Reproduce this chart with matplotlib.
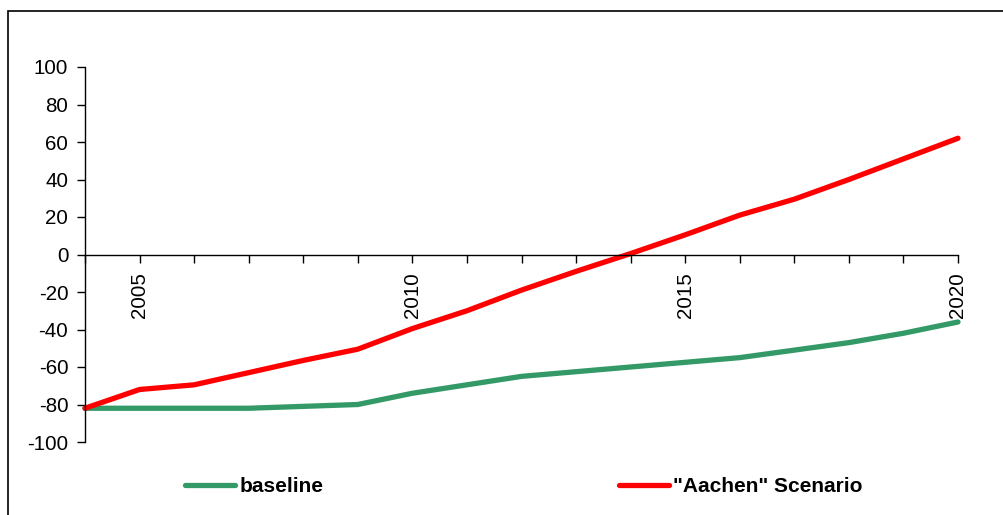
import matplotlib
matplotlib.use("Agg")
import matplotlib.pyplot as plt
from matplotlib.patches import Rectangle
from matplotlib.ticker import MultipleLocator
from matplotlib import font_manager

years = list(range(2004, 2021))
baseline = [-82, -82, -82, -82, -81, -80, -74, -69.5, -65, -62.5, -60, -57.5, -55, -51, -47, -42, -36]
aachen = [-82, -72, -69.5, -63, -56.5, -50.5, -39.5, -30, -19, -9, 0.5, 10.5, 21, 29.5, 40, 51, 62]
year_ticks = [2005, 2010, 2015, 2020]
y_ticks = [-100, -80, -60, -40, -20, 0, 20, 40, 60, 80, 100]

plt.rcParams['font.family'] = ['Liberation Sans', 'DejaVu Sans']
plt.rcParams['axes.unicode_minus'] = False

names = {f.name for f in font_manager.fontManager.ttflist}
legend_family = 'Liberation Sans Narrow' if 'Liberation Sans Narrow' in names else 'Liberation Sans'

fig = plt.figure(figsize=(10.04, 5.15), dpi=100)
ax = fig.add_axes([85 / 1004, 1 - 442 / 515, (958 - 85) / 1004, (442 - 67) / 515])

ax.plot(years, baseline, color='#339966', lw=3.8, solid_capstyle='round', label='baseline', clip_on=False)
ax.plot(years, aachen, color='#ff0000', lw=3.8, solid_capstyle='round', label='"Aachen" Scenario', clip_on=False)

ax.set_xlim(2004, 2020)
ax.set_ylim(-100, 100)
ax.set_yticks(y_ticks)
ax.set_xticks(year_ticks)
ax.xaxis.set_minor_locator(MultipleLocator(1))

ax.spines['top'].set_visible(False)
ax.spines['right'].set_visible(False)
ax.spines['bottom'].set_position(('data', 0))
for s in ('left', 'bottom'):
    ax.spines[s].set_linewidth(1.0)

ax.tick_params(axis='y', direction='out', length=6, width=1, labelsize=14.8, pad=6)
ax.tick_params(axis='x', which='both', direction='out', length=6, width=1, labelsize=14.8, pad=7)
for lab in ax.get_xticklabels():
    lab.set_rotation(90)
    lab.set_va('top')
    lab.set_ha('center')

# outer border
fig.patches.append(Rectangle((8 / 1004, -0.1), 1.2, 1.1 - 11 / 515, transform=fig.transFigure,
                             fill=False, edgecolor='black', lw=1.2))

size = 16.5 if legend_family == 'Liberation Sans Narrow' else 15
leg = fig.legend(loc='center left', bbox_to_anchor=(185 / 1004, 1 - 487 / 515), ncol=2,
                 frameon=False, borderpad=0, borderaxespad=0, handlelength=2.4,
                 handletextpad=0.2, columnspacing=14.2,
                 prop={'family': [legend_family, 'Liberation Sans'], 'weight': 'bold', 'size': size})

fig.savefig('out.png', dpi=100)
